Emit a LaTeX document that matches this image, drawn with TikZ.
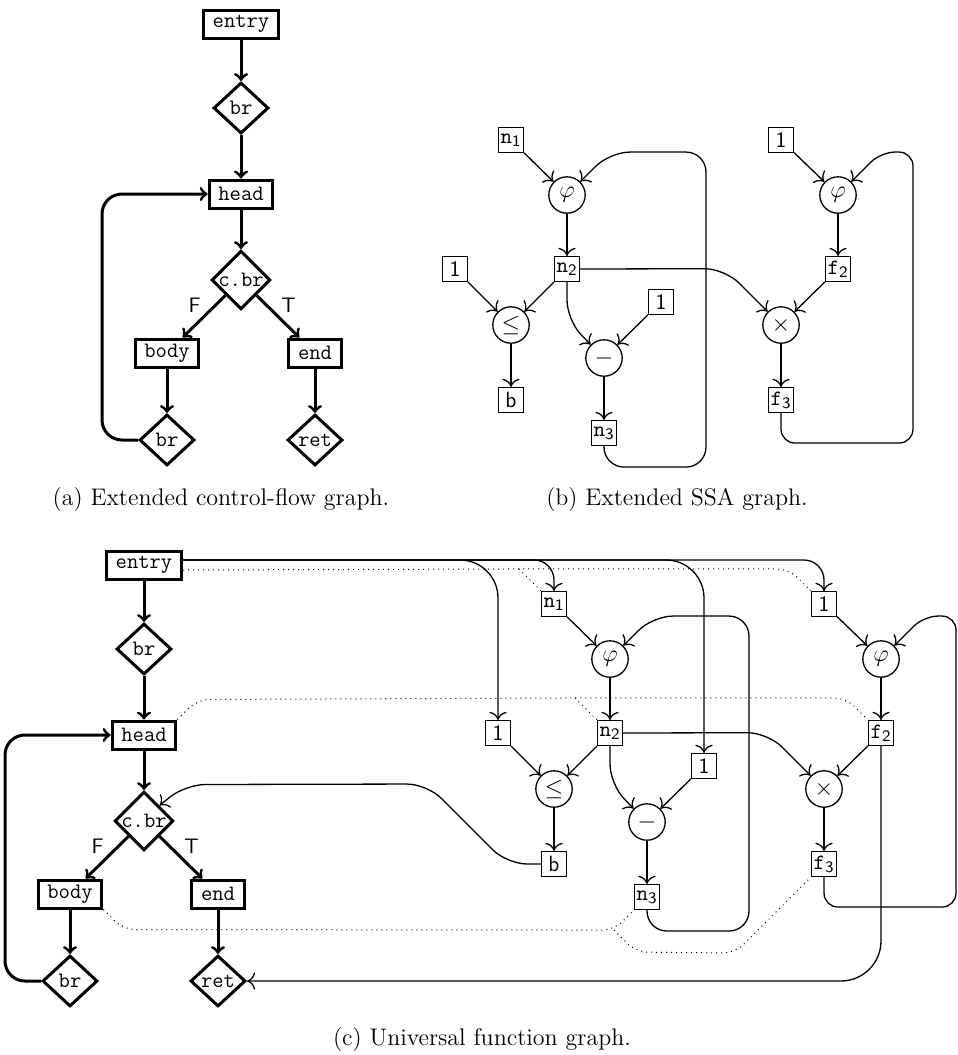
\documentclass[tikz,border=0pt]{standalone}
\usetikzlibrary{shapes.geometric,calc,arrows.meta}

\tikzset{
  cfblock/.style={draw,line width=1.5pt,inner xsep=4.6pt,inner ysep=0pt,minimum height=14pt,font=\fontsize{11}{13}\ttfamily},
  cfcond/.style={draw,diamond,line width=1.5pt,inner sep=0pt,minimum width=27.5pt,minimum height=25.5pt,font=\fontsize{11}{13}\ttfamily},
  cfedge/.style={->,line width=1.5pt,rounded corners=10pt},
  val/.style={draw,line width=.65pt,inner sep=.5pt,minimum size=12.4pt,font=\fontsize{11}{13}\ttfamily},
  op/.style={draw,circle,line width=.65pt,inner sep=0pt,minimum size=18.2pt,font=\fontsize{12}{14}\selectfont},
  dedge/.style={->,>={To[scale=1.35]},line width=.65pt,rounded corners=10pt},
  link/.style={line width=.5pt,dotted,rounded corners=6pt},
  branch/.style={font=\fontsize{10.5}{12}\sffamily,inner sep=1pt},
  caption/.style={font=\fontsize{12}{14}\selectfont},
}

% control-flow graph, entry at the origin
\newcommand\cfgraph{%
  \node[cfblock] (entry) at (0,0) {entry};
  \node[cfcond] (br1) at (0,-84) {br};
  \node[cfblock] (head) at (0,-170) {head};
  \node[cfcond] (cbr) at (0,-256) {c.br};
  \node[cfblock] (body) at (-74,-329) {body};
  \node[cfblock] (end) at (74,-329) {end};
  \node[cfcond] (br2) at (-74,-416) {br};
  \node[cfcond] (ret) at (74,-416) {ret};
  \draw[cfedge] (entry) -- (br1);
  \draw[cfedge] (br1) -- (head);
  \draw[cfedge] (head) -- (cbr);
  \draw[cfedge] (cbr) -- node[branch,above left]{F} (body);
  \draw[cfedge] (cbr) -- node[branch,above right]{T} (end);
  \draw[cfedge] (body) -- (br2);
  \draw[cfedge] (end) -- (ret);
  \draw[cfedge] (br2.west) -- ++(-36,0) |- (head.west);
}

% SSA graph, n1 at the origin
\newcommand\ssagraph{%
  \node[val] (n1) at (0,0) {$\mathtt{n}_{\mathsf{1}}$};
  \node[op] (phi) at (56,-55) {$\varphi$};
  \node[val] (n2) at (56,-129) {$\mathtt{n}_{\mathsf{2}}$};
  \node[val] (one) at (-56,-129) {\textsf{1}};
  \node[op] (le) at (0,-185) {$\leq$};
  \node[val] (b) at (0,-260) {\textsf{b}};
  \node[val] (onem) at (150,-162) {\textsf{1}};
  \node[op] (minus) at (93,-218) {$-$};
  \node[val] (n3) at (93,-293) {$\mathtt{n}_{\mathsf{3}}$};
  \node[val] (onef) at (270,0) {\textsf{1}};
  \node[op] (phif) at (327,-55) {$\varphi$};
  \node[val] (f2) at (327,-129) {$\mathtt{f}_{\mathsf{2}}$};
  \node[op] (times) at (270,-185) {$\times$};
  \node[val] (f3) at (270,-260) {$\mathtt{f}_{\mathsf{3}}$};
  \draw[dedge] (n1) -- (phi);
  \draw[dedge] (phi) -- (n2);
  \draw[dedge] (one) -- (le);
  \draw[dedge] (n2) -- (le);
  \draw[dedge] (le) -- (b);
  \draw[dedge] (n2.south) -- ++(0,-38) -- (minus.135);
  \draw[dedge] (onem) -- (minus);
  \draw[dedge] (minus) -- (n3);
  \draw[dedge] (n3.south) -- ++(0,-21) -- ++(102,0) -- ++(0,315) -- ++(-96,0) -- (phi.45);
  \draw[dedge] (n2.east) -- ($(times.135)+(-43,43)$) -- (times.135);
  \draw[dedge] (onef) -- (phif);
  \draw[dedge] (phif) -- (f2);
  \draw[dedge] (f2) -- (times);
  \draw[dedge] (times) -- (f3);
  \draw[dedge,rounded corners=7pt] (f3.south) -- ++(0,-30) -- ++(132,0) -- ++(0,291) -- ++(-32,0) -- (phif.45);
}

\begin{document}
\begin{tikzpicture}[x=0.5pt,y=0.5pt,>=to]
  \useasboundingbox (0,0) rectangle (958,-1055);

  % (a)
  \begin{scope}[shift={(241,-24)},name prefix=a-]
    \cfgraph
  \end{scope}
  \node[caption] (capa) at (221,-500) {(a) Extended control-flow graph.};

  % (b)
  \begin{scope}[shift={(511,-140)},name prefix=b-]
    \ssagraph
  \end{scope}
  \node[caption] (capb) at (677,-500) {(b) Extended SSA graph.};

  % (c)
  \begin{scope}[shift={(144,-565)},name prefix=c-]
    \cfgraph
  \end{scope}
  \begin{scope}[shift={(554,-604)},name prefix=c-]
    \ssagraph
  \end{scope}
  \draw[dedge,rounded corners=19pt] ([yshift=2.5pt]c-entry.east) -| (c-one);
  \draw[dedge] ([yshift=2.5pt]c-entry.east) -| (c-n1);
  \draw[dedge,rounded corners=19pt] ([yshift=2.5pt]c-entry.east) -| (c-onem);
  \draw[dedge] ([yshift=2.5pt]c-entry.east) -| (c-onef);
  \draw[dedge] (c-b.west) -- ++(-34,0) -- ++(-80,80) -- ($(c-cbr.north east)+(26,21)$) -- (c-cbr.north east);
  \draw[dedge,rounded corners=20pt] (c-f2.south) |- (c-ret.east);
  \draw[link] ([yshift=-2.5pt]c-entry.east) -- ($(c-n1.north west)+(-22,22)$) coordinate (e1)
    -- ($(c-onef.north west)+(-22,22)$) -- (c-onef.north west);
  \draw[link] (e1) -- (c-n1.north west);
  \draw[link] (c-head.north east) -- ++(20,20) -- ($(c-n2.north west)+(-22,22)$) coordinate (h1)
    -- ($(c-f2.north west)+(-22,22)$) -- (c-f2.north west);
  \draw[link] (h1) -- (c-n2.north west);
  \draw[link] (c-body.south east) -- ++(20,-20) -- ($(c-n3.south west)+(-20,-20)$) coordinate (d1) -- (c-n3.south west);
  \draw[link] (d1) -- ++(22,-22) -- ($(c-f3.south west)+(-76,-76)$) -- (c-f3.south west);
  \node[caption] (capc) at (482,-1039) {(c) Universal function graph.};
\end{tikzpicture}
\end{document}
